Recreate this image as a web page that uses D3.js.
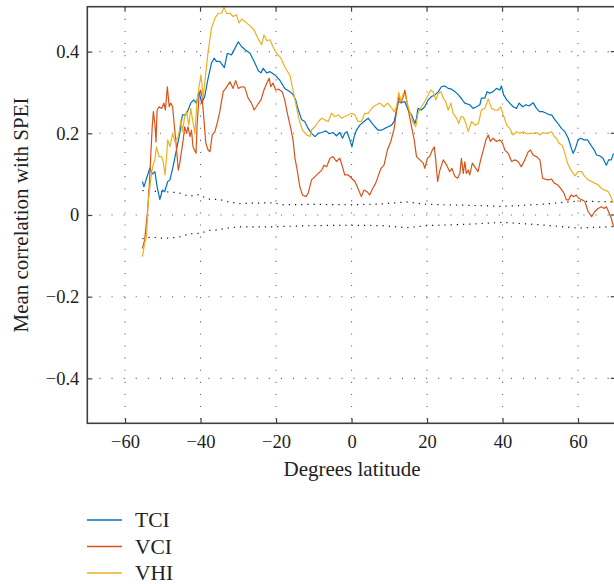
<!DOCTYPE html>
<html>
<head>
<meta charset="utf-8">
<script src="https://cdn.jsdelivr.net/npm/d3@7"></script>
<style>
  body { margin: 0; background: #fff; }
  svg { display: block; font-family: "Liberation Serif", "DejaVu Serif", serif; }
</style>
</head>
<body>
<svg id="chart" width="614" height="584"></svg>
<script>
// x ticks (degrees latitude) and y ticks (correlation)
const xTicks = [-60, -40, -20, 0, 20, 40, 60];
const yTicks = [-0.4, -0.2, 0, 0.2, 0.4];

// series as [latitude, mean correlation]
const tci = [
  [-55.4,0.082],[-55.0,0.069],[-54.3,0.09],[-53.4,0.115],[-52.8,0.100],[-52.1,0.106],[-51.5,0.069],
  [-50.8,0.038],[-50.1,0.061],[-49.5,0.057],[-48.7,0.082],[-48.1,0.086],[-47.3,0.118],[-46.4,0.159],
  [-45.5,0.200],[-44.8,0.245],[-43.9,0.245],[-43.3,0.257],[-42.6,0.274],[-41.8,0.282],[-41.1,0.274],
  [-40.4,0.302],[-39.7,0.274],[-38.9,0.290],[-38.1,0.330],[-37.1,0.372],[-36.4,0.384],[-35.8,0.376],
  [-34.9,0.376],[-33.7,0.361],[-32.9,0.396],[-31.8,0.392],[-30.9,0.408],[-30.0,0.424],[-29.1,0.412],
  [-28.1,0.404],[-26.9,0.396],[-25.8,0.376],[-24.7,0.353],[-24.0,0.348],[-23.4,0.359],[-22.5,0.348],
  [-21.6,0.351],[-20.3,0.343],[-19.0,0.330],[-17.7,0.310],[-16.3,0.302],[-15.5,0.295],[-14.8,0.282],
  [-14.1,0.257],[-13.2,0.233],[-12.4,0.229],[-11.5,0.212],[-10.6,0.200],[-9.7,0.192],[-8.8,0.200],
  [-7.9,0.202],[-6.8,0.206],[-5.9,0.199],[-4.9,0.202],[-4.0,0.194],[-3.1,0.202],[-2.4,0.188],
  [-1.8,0.200],[-1.2,0.204],[-0.45,0.184],[0.1,0.167],[0.7,0.192],[1.3,0.208],[2.2,0.220],[3.3,0.229],
  [4.4,0.237],[5.3,0.226],[6.2,0.216],[7.0,0.208],[8.0,0.208],[8.8,0.212],[9.7,0.216],[10.6,0.220],
  [11.3,0.229],[11.9,0.257],[12.5,0.278],[13.2,0.275],[14.1,0.278],[15.0,0.257],[15.9,0.245],
  [16.8,0.224],[17.2,0.237],[17.6,0.261],[18.5,0.257],[19.4,0.265],[20.3,0.282],[21.2,0.290],
  [22.1,0.294],[23.0,0.302],[23.8,0.314],[24.7,0.316],[25.6,0.310],[26.5,0.308],[27.4,0.302],
  [28.3,0.294],[29.2,0.284],[30.0,0.274],[31.3,0.270],[32.2,0.261],[33.1,0.265],[34.0,0.270],
  [34.4,0.286],[35.3,0.286],[35.9,0.302],[36.6,0.298],[37.5,0.302],[38.4,0.310],[39.3,0.306],
  [39.7,0.316],[40.3,0.294],[41.1,0.282],[41.9,0.274],[42.8,0.265],[43.7,0.261],[44.4,0.274],
  [45.3,0.265],[46.2,0.270],[47.0,0.267],[48.1,0.275],[49.0,0.261],[49.8,0.253],[50.7,0.253],
  [51.6,0.249],[52.5,0.245],[53.0,0.245],[53.9,0.233],[54.7,0.224],[55.6,0.212],[56.5,0.204],
  [57.4,0.188],[58.1,0.167],[58.7,0.151],[59.3,0.163],[60.0,0.184],[60.7,0.188],[61.6,0.184],
  [62.5,0.184],[63.4,0.171],[64.3,0.159],[64.9,0.147],[65.7,0.145],[66.6,0.139],[67.5,0.122],
  [68.1,0.135],[68.8,0.135],[69.4,0.151]
];

const vci = [
  [-55.4,-0.082],[-54.8,-0.061],[-54.1,0.004],[-53.6,0.069],[-53.2,0.143],[-52.8,0.216],[-52.5,0.253],
  [-52.1,0.224],[-51.8,0.179],[-51.5,0.257],[-51.0,0.265],[-50.3,0.261],[-49.7,0.274],[-49.3,0.257],
  [-48.8,0.314],[-48.3,0.265],[-47.9,0.274],[-47.4,0.265],[-47.0,0.224],[-46.5,0.176],[-45.9,0.110],
  [-45.5,0.127],[-45.0,0.159],[-44.6,0.184],[-44.2,0.216],[-43.7,0.200],[-43.3,0.216],[-42.8,0.192],
  [-42.4,0.208],[-42.0,0.167],[-41.2,0.151],[-40.9,0.224],[-40.4,0.290],[-40.0,0.306],[-39.6,0.290],
  [-39.1,0.233],[-38.6,0.176],[-38.0,0.159],[-37.5,0.155],[-36.9,0.196],[-36.2,0.204],[-35.5,0.228],
  [-34.9,0.253],[-34.0,0.302],[-33.1,0.313],[-32.2,0.326],[-31.4,0.310],[-30.7,0.329],[-30.0,0.310],
  [-29.1,0.314],[-28.3,0.313],[-27.4,0.286],[-26.5,0.274],[-25.8,0.257],[-24.9,0.270],[-24.0,0.282],
  [-23.2,0.306],[-22.3,0.326],[-21.8,0.335],[-21.4,0.314],[-20.8,0.323],[-20.1,0.306],[-19.3,0.308],
  [-18.4,0.302],[-17.7,0.282],[-17.0,0.249],[-16.1,0.212],[-15.5,0.184],[-15.0,0.140],[-14.4,0.110],
  [-13.7,0.069],[-13.0,0.049],[-12.1,0.045],[-11.5,0.053],[-10.6,0.086],[-9.7,0.094],[-8.8,0.102],
  [-7.9,0.110],[-7.3,0.122],[-6.6,0.118],[-5.7,0.139],[-4.9,0.143],[-4.0,0.131],[-3.1,0.139],
  [-2.4,0.118],[-1.8,0.098],[-0.9,0.098],[0.0,0.090],[0.9,0.082],[1.7,0.065],[2.6,0.045],[3.3,0.061],
  [4.1,0.057],[4.8,0.049],[5.6,0.065],[6.4,0.078],[7.3,0.102],[7.8,0.114],[8.6,0.122],[9.5,0.159],
  [10.4,0.180],[11.3,0.212],[11.9,0.253],[12.5,0.290],[13.1,0.274],[13.7,0.290],[14.1,0.306],
  [14.6,0.282],[15.2,0.249],[15.9,0.216],[16.6,0.184],[17.2,0.143],[18.1,0.135],[19.0,0.127],
  [19.4,0.114],[20.1,0.139],[20.7,0.143],[21.4,0.159],[21.9,0.167],[22.3,0.135],[22.8,0.082],
  [23.4,0.110],[24.3,0.135],[25.2,0.122],[26.0,0.106],[26.6,0.114],[27.4,0.094],[28.1,0.090],
  [28.7,0.102],[29.1,0.139],[29.6,0.102],[30.0,0.130],[30.4,0.102],[30.9,0.110],[31.3,0.098],
  [32.0,0.127],[32.9,0.114],[33.5,0.106],[34.2,0.135],[34.9,0.159],[35.6,0.184],[36.2,0.196],
  [36.8,0.180],[37.5,0.188],[38.4,0.180],[39.3,0.184],[40.0,0.176],[40.6,0.159],[41.5,0.151],
  [42.4,0.131],[43.3,0.135],[44.1,0.131],[45.0,0.118],[45.9,0.135],[46.8,0.155],[47.4,0.159],
  [48.1,0.147],[49.0,0.143],[49.9,0.135],[50.6,0.090],[51.2,0.088],[52.1,0.086],[53.0,0.088],
  [53.7,0.078],[54.6,0.074],[55.4,0.065],[56.3,0.053],[56.9,0.037],[57.5,0.037],[58.2,0.049],
  [58.9,0.045],[59.5,0.049],[60.1,0.041],[60.9,0.038],[61.8,0.033],[62.7,0.008],[63.6,-0.004],
  [64.4,0.008],[65.3,0.016],[66.2,0.020],[66.9,0.016],[67.5,0.020],[68.1,0.008],[68.8,-0.008],
  [69.4,-0.029]
];

const vhi = [
  [-55.4,-0.102],[-54.8,-0.069],[-54.3,-0.053],[-53.9,0.029],[-53.2,0.086],[-52.7,0.118],[-52.1,0.135],
  [-51.7,0.167],[-51.0,0.143],[-50.3,0.143],[-49.9,0.131],[-49.4,0.098],[-49.0,0.143],[-48.7,0.184],
  [-48.1,0.167],[-47.4,0.200],[-46.8,0.179],[-45.9,0.192],[-45.2,0.233],[-44.8,0.204],[-44.2,0.241],
  [-43.7,0.253],[-43.1,0.220],[-42.6,0.261],[-42.1,0.233],[-41.5,0.200],[-40.9,0.282],[-40.4,0.314],
  [-39.9,0.343],[-39.3,0.290],[-38.7,0.339],[-38.0,0.400],[-37.1,0.457],[-36.2,0.482],[-35.3,0.494],
  [-34.4,0.494],[-33.8,0.509],[-33.1,0.493],[-32.2,0.494],[-31.4,0.486],[-30.5,0.490],[-29.8,0.470],
  [-29.1,0.480],[-28.3,0.474],[-26.9,0.463],[-25.8,0.453],[-24.7,0.430],[-23.8,0.417],[-23.2,0.441],
  [-22.5,0.427],[-21.6,0.429],[-20.8,0.412],[-19.9,0.396],[-18.7,0.384],[-17.7,0.363],[-16.3,0.341],
  [-15.5,0.306],[-14.8,0.274],[-13.9,0.233],[-13.0,0.208],[-11.9,0.196],[-11.0,0.192],[-10.6,0.208],
  [-9.7,0.216],[-8.8,0.229],[-7.9,0.237],[-7.1,0.233],[-6.2,0.229],[-5.3,0.249],[-4.4,0.241],
  [-3.5,0.245],[-2.6,0.237],[-1.8,0.241],[-0.9,0.245],[0.0,0.249],[0.9,0.245],[1.7,0.229],[2.6,0.229],
  [3.5,0.249],[4.4,0.249],[5.0,0.257],[5.7,0.265],[6.6,0.270],[7.5,0.274],[8.6,0.265],[9.5,0.274],
  [10.4,0.265],[11.3,0.253],[11.9,0.265],[12.5,0.300],[13.1,0.278],[13.7,0.298],[14.3,0.290],
  [15.0,0.265],[15.7,0.245],[16.4,0.224],[17.0,0.216],[17.6,0.249],[18.5,0.265],[19.4,0.278],
  [20.3,0.294],[21.0,0.306],[21.6,0.302],[22.3,0.282],[23.0,0.298],[23.7,0.302],[24.3,0.286],
  [24.9,0.278],[25.6,0.257],[26.3,0.274],[26.9,0.249],[27.8,0.237],[28.4,0.224],[29.0,0.241],
  [29.6,0.240],[30.3,0.224],[30.9,0.204],[31.8,0.229],[32.7,0.220],[33.6,0.224],[34.4,0.257],
  [35.3,0.261],[36.2,0.284],[37.1,0.261],[38.0,0.257],[38.8,0.257],[39.5,0.265],[40.2,0.245],
  [41.1,0.220],[41.9,0.212],[42.8,0.196],[43.7,0.204],[44.6,0.200],[45.5,0.204],[46.4,0.199],
  [47.2,0.200],[48.1,0.200],[49.0,0.202],[49.9,0.196],[50.7,0.202],[51.6,0.200],[52.5,0.202],
  [53.0,0.204],[53.7,0.192],[54.3,0.188],[54.9,0.176],[55.8,0.171],[56.5,0.151],[57.2,0.127],
  [58.1,0.110],[59.2,0.096],[60.0,0.106],[60.9,0.106],[61.8,0.094],[62.7,0.086],[63.6,0.082],
  [64.4,0.078],[65.3,0.074],[66.2,0.065],[67.1,0.061],[68.0,0.057],[68.7,0.045],[69.3,0.030]
];

// significance bounds (black dotted)
const upperBound = [
  [-55.4,0.060],[-50,0.057],[-46,0.055],[-43,0.046],[-40.5,0.050],[-38,0.039],[-35,0.038],[-33,0.033],
  [-30,0.028],[-26,0.029],[-21,0.030],[-18,0.025],[-10,0.026],[0,0.025],[8,0.027],[14.6,0.032],
  [20,0.026],[30,0.024],[40,0.021],[50,0.026],[60,0.034],[70,0.032]
];
const lowerBound = [
  [-55.4,-0.058],[-53,-0.054],[-50,-0.057],[-46,-0.055],[-43,-0.046],[-40,-0.045],[-38,-0.038],
  [-36,-0.037],[-33.5,-0.033],[-30,-0.029],[-21,-0.029],[-18,-0.028],[-10,-0.026],[0,-0.025],
  [8,-0.026],[14.6,-0.031],[20,-0.026],[30,-0.023],[40,-0.018],[50,-0.024],[60,-0.032],[70,-0.028]
];

const seriesNames = ['TCI', 'VCI', 'VHI'];
const seriesColors = ['#0072BD', '#D95319', '#EDB120'];
const seriesData = [tci, vci, vhi];

const svg = d3.select('#chart');

// scales
const x = d3.scaleLinear().domain([-70, 70]).range([87.3, 615.8]);
const y = d3.scaleLinear().domain([-0.51, 0.51]).range([423.3, 6.7]);

const plotLeft = x.range()[0], plotRight = x.range()[1];
const plotTop = y.range()[1], plotBottom = y.range()[0];

// clip to plot box
svg.append('defs').append('clipPath').attr('id', 'clip')
  .append('rect').attr('x', plotLeft).attr('y', plotTop)
  .attr('width', plotRight - plotLeft).attr('height', plotBottom - plotTop);

// dotted grid
const grid = svg.append('g').attr('stroke', '#666').attr('stroke-width', 1.1)
  .attr('stroke-dasharray', '1.1,11');
xTicks.forEach(t => {
  grid.append('line').attr('x1', x(t)).attr('x2', x(t)).attr('y1', plotTop).attr('y2', plotBottom);
});
yTicks.forEach(t => {
  grid.append('line').attr('x1', plotLeft).attr('x2', plotRight).attr('y1', y(t)).attr('y2', y(t));
});

const line = d3.line().x(d => x(d[0])).y(d => y(d[1]));
const plot = svg.append('g').attr('clip-path', 'url(#clip)');

// bounds
[upperBound, lowerBound].forEach(b => {
  plot.append('path').attr('d', line(b)).attr('fill', 'none')
    .attr('stroke', '#111').attr('stroke-width', 1.2).attr('stroke-dasharray', '1.2,5');
});

// series lines
seriesData.forEach((s, i) => {
  plot.append('path').attr('d', line(s)).attr('fill', 'none')
    .attr('stroke', seriesColors[i]).attr('stroke-width', 1.2)
    .attr('stroke-linejoin', 'round');
});

// axes
const xAxis = d3.axisBottom(x).tickValues(xTicks).tickSize(-5).tickPadding(12)
  .tickFormat(d3.format('d'));
const yAxis = d3.axisLeft(y).tickValues(yTicks).tickSize(-5).tickPadding(8)
  .tickFormat(d => d === 0 ? '0' : d3.format('.1f')(d));

const gx = svg.append('g').attr('transform', `translate(0,${plotBottom})`).call(xAxis);
const gy = svg.append('g').attr('transform', `translate(${plotLeft},0)`).call(yAxis);
[gx, gy].forEach(g => {
  g.select('.domain').remove();
  g.selectAll('.tick line').attr('stroke', '#404040').attr('stroke-width', 1.2);
  g.selectAll('text').attr('fill', '#222').style('font-size', '18.5px')
    .style('font-family', '"Liberation Serif", serif');
});

// ticks on top and right edges
const edge = svg.append('g').attr('stroke', '#404040').attr('stroke-width', 1.2);
xTicks.forEach(t => {
  edge.append('line').attr('x1', x(t)).attr('x2', x(t)).attr('y1', plotTop).attr('y2', plotTop + 5);
});
yTicks.forEach(t => {
  edge.append('line').attr('x1', plotRight - 5).attr('x2', plotRight).attr('y1', y(t)).attr('y2', y(t));
});

// plot frame
svg.append('rect').attr('x', plotLeft).attr('y', plotTop)
  .attr('width', plotRight - plotLeft).attr('height', plotBottom - plotTop)
  .attr('fill', 'none').attr('stroke', '#404040').attr('stroke-width', 1.6);

// axis titles
svg.append('text').attr('x', 352).attr('y', 476)
  .attr('text-anchor', 'middle').attr('fill', '#222').style('font-size', '21px')
  .text('Degrees latitude');
svg.append('text').attr('transform', `translate(28,${y(0)}) rotate(-90)`)
  .attr('text-anchor', 'middle').attr('fill', '#222').style('font-size', '21px')
  .text('Mean correlation with SPEI');

// legend
const legend = svg.append('g');
seriesNames.forEach((name, i) => {
  const ly = 520 + i * 26.5;
  legend.append('line').attr('x1', 87).attr('x2', 122).attr('y1', ly).attr('y2', ly)
    .attr('stroke', seriesColors[i]).attr('stroke-width', 1.6);
  legend.append('text').attr('x', 135).attr('y', ly + 7)
    .attr('fill', '#222').style('font-size', '21.5px').text(name);
});
</script>
</body>
</html>
